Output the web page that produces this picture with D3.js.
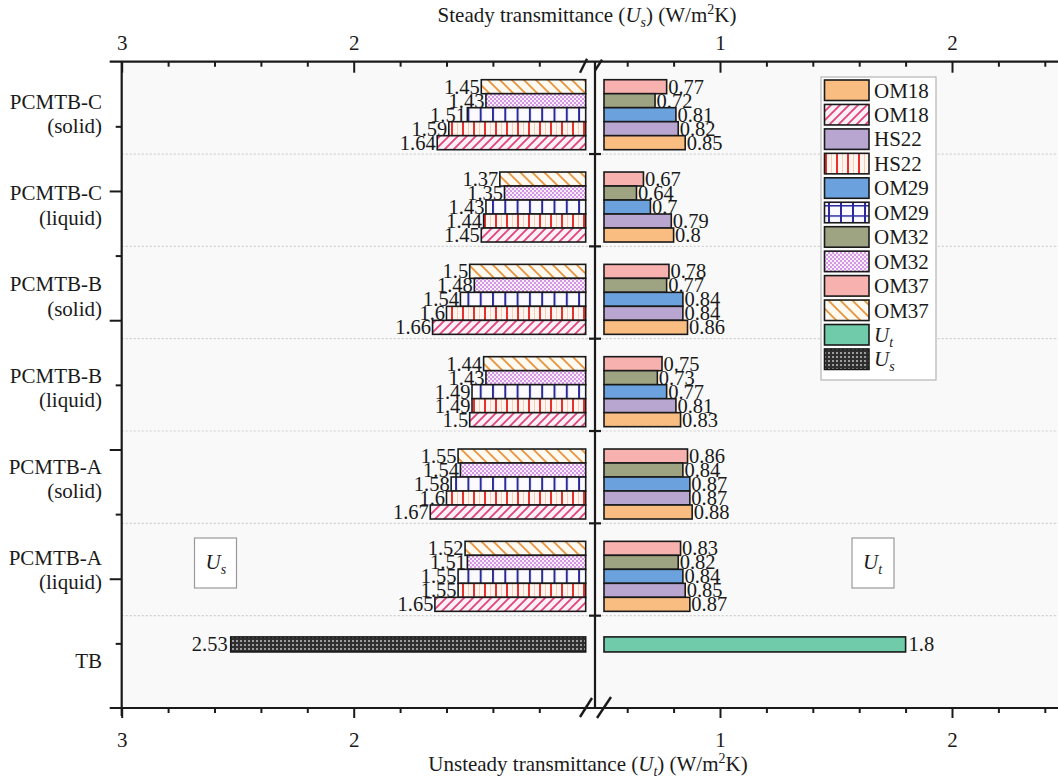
<!DOCTYPE html>
<html>
<head>
<meta charset="utf-8">
<script src="https://cdn.jsdelivr.net/npm/d3@7"></script>
<style>
  html, body { margin: 0; padding: 0; background: #ffffff; }
  svg { display: block; font-family: "Liberation Serif", "DejaVu Serif", serif; }
  svg text { font-family: "Liberation Serif", "DejaVu Serif", serif; }
</style>
</head>
<body>
<svg id="chart" width="1058" height="779"></svg>
<script>
// ---------------- DATA ----------------
const categories = ["PCMTB-C (solid)", "PCMTB-C (liquid)", "PCMTB-B (solid)", "PCMTB-B (liquid)", "PCMTB-A (solid)", "PCMTB-A (liquid)", "TB"];
const pcmCategories = categories.slice(0, 6);
// series as drawn from top to bottom inside each group
const series = ["OM37", "OM32", "OM29", "HS22", "OM18"];
const legendOrder = ["OM18", "HS22", "OM29", "OM32", "OM37"];

// Steady transmittance Us (left, patterned bars)
const usOM37 = [1.45, 1.37, 1.5, 1.44, 1.55, 1.52];
const usOM32 = [1.43, 1.35, 1.48, 1.43, 1.54, 1.51];
const usOM29 = [1.51, 1.43, 1.54, 1.49, 1.58, 1.55];
const usHS22 = [1.59, 1.44, 1.6, 1.49, 1.6, 1.55];
const usOM18 = [1.64, 1.45, 1.66, 1.5, 1.67, 1.65];
// Unsteady transmittance Ut (right, solid bars)
const utOM37 = [0.77, 0.67, 0.78, 0.75, 0.86, 0.83];
const utOM32 = [0.72, 0.64, 0.77, 0.73, 0.84, 0.82];
const utOM29 = [0.81, 0.7, 0.84, 0.77, 0.87, 0.84];
const utHS22 = [0.82, 0.79, 0.84, 0.81, 0.87, 0.85];
const utOM18 = [0.85, 0.8, 0.86, 0.83, 0.88, 0.87];
// TB reference
const tbUs = [2.53];
const tbUt = [1.8];

const leftTicksMinor = [2.8, 2.6, 2.4, 2.2, 1.8, 1.6, 1.4, 1.2];
const leftTicksMajor = [3, 2];
const rightTicksMinor = [0.6, 0.8, 1.2, 1.4, 1.6, 1.8, 2.2, 2.4];
const rightTicksMajor = [1, 2];

const usData = { OM37: usOM37, OM32: usOM32, OM29: usOM29, HS22: usHS22, OM18: usOM18 };
const utData = { OM37: utOM37, OM32: utOM32, OM29: utOM29, HS22: utHS22, OM18: utOM18 };

// ---------------- STYLE ----------------
const solidColor = { OM18: "#F9BD82", HS22: "#B8A5D0", OM29: "#6BA1DC", OM32: "#9EA382", OM37: "#F7B1AE" };
const utColor = "#6FCBA9";
const FONT = 21;
const VFONT = 20.5;
const INK = "#1a1a1a";
const SERIF = "'Liberation Serif', 'DejaVu Serif', serif";

const svg = d3.select("#chart");
const W = 1058;
const plotTop = 61.7, plotBottom = 708, leftAxisX = 121.7, breakX = 595;

// scales
const xL = d3.scaleLinear().domain([3, 1]).range([leftAxisX, 585.7]);
const xR = d3.scaleLinear().domain([1, 2]).range([720, 952]);
const baseL = 1, baseR = 0.5;
const y = d3.scaleBand().domain(categories).range([plotTop, plotBottom]).padding(0);
const bw = y.bandwidth();
const ySeries = d3.scaleBand().domain(series).range([bw * 0.195, bw * 0.953]).padding(0);
const yLeftAxis = d3.scaleLinear().domain([0, 10]).range([plotTop, plotBottom]);
const yLabel = d3.scalePoint().domain(categories).range([yLeftAxis(0.81), yLeftAxis(9.28)]);

// ---------------- PATTERNS ----------------
const defs = svg.append("defs");
function pat(id, w, h, build) {
  const p = defs.append("pattern").attr("id", id).attr("patternUnits", "userSpaceOnUse")
    .attr("width", w).attr("height", h);
  build(p);
}
pat("p-OM18", 9, 9, p => {
  p.append("rect").attr("width", 9).attr("height", 9).attr("fill", "#fdf1f6");
  p.append("path").attr("d", "M0,9 L9,0 M-2,2 L2,-2 M7,11 L11,7").attr("stroke", "#e2437b").attr("stroke-width", 1.8);
});
pat("p-OM37", 12, 12, p => {
  p.append("rect").attr("width", 12).attr("height", 12).attr("fill", "#fffaf1");
  p.append("path").attr("d", "M0,0 L12,12 M-3,9 L3,15 M9,-3 L15,3").attr("stroke", "#e8943e").attr("stroke-width", 1.8);
});
pat("p-HS22", 11, 11, p => {
  p.append("rect").attr("width", 11).attr("height", 11).attr("fill", "#fff6f1");
  p.append("line").attr("x1", 1).attr("x2", 1).attr("y1", 0).attr("y2", 11).attr("stroke", "#e8312c").attr("stroke-width", 2);
  p.append("line").attr("x1", 6.5).attr("x2", 6.5).attr("y1", 0).attr("y2", 11).attr("stroke", "#f7cdb6").attr("stroke-width", 1);
});
pat("p-OM29", 12.3, 12.3, p => {
  p.append("rect").attr("width", 12.3).attr("height", 12.3).attr("fill", "#fbfbff");
  p.append("line").attr("x1", 1).attr("x2", 1).attr("y1", 0).attr("y2", 12.3).attr("stroke", "#2a2a9c").attr("stroke-width", 2);
});
pat("p-OM29-leg", 12, 10.25, p => {
  p.append("rect").attr("width", 12).attr("height", 10.25).attr("fill", "#fbfbff");
  p.append("line").attr("x1", 1).attr("x2", 1).attr("y1", 0).attr("y2", 10.25).attr("stroke", "#2a2a9c").attr("stroke-width", 2);
  p.append("line").attr("x1", 0).attr("x2", 12).attr("y1", 0.5).attr("y2", 0.5).attr("stroke", "#2a2a9c").attr("stroke-width", 2);
});
pat("p-OM32", 4, 4, p => {
  p.append("rect").attr("width", 4).attr("height", 4).attr("fill", "#f9eefb");
  p.append("rect").attr("width", 2).attr("height", 2).attr("fill", "#d596e3");
  p.append("rect").attr("x", 2).attr("y", 2).attr("width", 2).attr("height", 2).attr("fill", "#d596e3");
});
pat("p-US", 4, 4, p => {
  p.append("rect").attr("width", 4).attr("height", 4).attr("fill", "#2f2f2f");
  p.append("rect").attr("width", 2).attr("height", 2).attr("fill", "#9c9c9c");
});

// ---------------- BACKGROUND / GRID ----------------
svg.append("rect").attr("x", leftAxisX).attr("y", plotTop).attr("width", W - leftAxisX).attr("height", plotBottom - plotTop).attr("fill", "#f9f9f9");

const boundaries = categories.slice(1).map(c => y(c));
svg.append("g").selectAll("line").data(boundaries).join("line")
  .attr("x1", leftAxisX).attr("x2", W).attr("y1", d => d).attr("y2", d => d)
  .attr("stroke", "#cfcfcf").attr("stroke-width", 1.2).attr("stroke-dasharray", "2,2");

// ---------------- BARS ----------------
const barsG = svg.append("g");
const flat = [];
pcmCategories.forEach((c, i) => {
  series.forEach(s => flat.push({ c, s, us: usData[s][i], ut: utData[s][i] }));
});
// left (Us)
barsG.selectAll("rect.us").data(flat).join("rect").attr("class", "us")
  .attr("x", d => xL(d.us)).attr("width", d => xL(baseL) - xL(d.us))
  .attr("y", d => y(d.c) + ySeries(d.s)).attr("height", ySeries.bandwidth())
  .attr("fill", d => `url(#p-${d.s})`).attr("stroke", INK).attr("stroke-width", 1.6);
// right (Ut)
barsG.selectAll("rect.ut").data(flat).join("rect").attr("class", "ut")
  .attr("x", xR(baseR)).attr("width", d => xR(d.ut) - xR(baseR))
  .attr("y", d => y(d.c) + ySeries(d.s)).attr("height", ySeries.bandwidth())
  .attr("fill", d => solidColor[d.s]).attr("stroke", INK).attr("stroke-width", 1.6);
// TB
const tbY = y("TB") + bw * 0.23, tbH = bw * 0.163;
barsG.selectAll("rect.tbus").data(tbUs).join("rect").attr("class", "tbus")
  .attr("x", d => xL(d)).attr("width", d => xL(baseL) - xL(d)).attr("y", tbY).attr("height", tbH)
  .attr("fill", "url(#p-US)").attr("stroke", INK).attr("stroke-width", 1.6);
barsG.selectAll("rect.tbut").data(tbUt).join("rect").attr("class", "tbut")
  .attr("x", xR(baseR)).attr("width", d => xR(d) - xR(baseR)).attr("y", tbY).attr("height", tbH)
  .attr("fill", utColor).attr("stroke", INK).attr("stroke-width", 1.6);

// value labels
const lblG = svg.append("g").attr("font-size", VFONT).attr("fill", INK).style("font-family", SERIF);
lblG.selectAll("text.lus").data(flat).join("text").attr("class", "lus")
  .attr("x", d => xL(d.us) - 1.5).attr("y", d => y(d.c) + ySeries(d.s) + ySeries.bandwidth() / 2 + 7)
  .attr("text-anchor", "end").text(d => String(d.us));
lblG.selectAll("text.lut").data(flat).join("text").attr("class", "lut")
  .attr("x", d => xR(d.ut) + 1.5).attr("y", d => y(d.c) + ySeries(d.s) + ySeries.bandwidth() / 2 + 7)
  .attr("text-anchor", "start").text(d => String(d.ut));
lblG.selectAll("text.ltbus").data(tbUs).join("text").attr("class", "ltbus")
  .attr("x", d => xL(d) - 3).attr("y", tbY + tbH / 2 + 7).attr("text-anchor", "end").text(d => String(d));
lblG.selectAll("text.ltbut").data(tbUt).join("text").attr("class", "ltbut")
  .attr("x", d => xR(d) + 3).attr("y", tbY + tbH / 2 + 7).attr("text-anchor", "start").text(d => String(d));

// ---------------- AXES ----------------
function styleAxis(g) {
  g.attr("font-family", null).attr("font-size", null);
  g.select(".domain").remove();
  g.selectAll(".tick line").attr("stroke", INK).attr("stroke-width", 2);
  g.selectAll(".tick text").attr("font-size", FONT).attr("fill", INK).style("font-family", SERIF);
}
// top axis (ticks inward = downward)
const topG = svg.append("g").attr("transform", `translate(0,${plotTop})`);
topG.append("g").call(d3.axisTop(xL).tickValues(leftTicksMinor).tickSize(-5).tickFormat("")).call(styleAxis);
topG.append("g").call(d3.axisTop(xL).tickValues(leftTicksMajor).tickSize(-11).tickPadding(12).tickFormat(d3.format("d"))).call(styleAxis);
topG.append("g").call(d3.axisTop(xR).tickValues(rightTicksMinor).tickSize(-5).tickFormat("")).call(styleAxis);
topG.append("g").call(d3.axisTop(xR).tickValues(rightTicksMajor).tickSize(-11).tickPadding(12).tickFormat(d3.format("d"))).call(styleAxis);
// bottom axis (ticks outward = downward)
const botG = svg.append("g").attr("transform", `translate(0,${plotBottom})`);
botG.append("g").call(d3.axisBottom(xL).tickValues(leftTicksMinor).tickSize(5).tickFormat("")).call(styleAxis);
botG.append("g").call(d3.axisBottom(xL).tickValues(leftTicksMajor).tickSize(10).tickPadding(14).tickFormat(d3.format("d"))).call(styleAxis);
botG.append("g").call(d3.axisBottom(xR).tickValues(rightTicksMinor).tickSize(5).tickFormat("")).call(styleAxis);
botG.append("g").call(d3.axisBottom(xR).tickValues(rightTicksMajor).tickSize(10).tickPadding(14).tickFormat(d3.format("d"))).call(styleAxis);
// left axis (numeric subdivisions, outward ticks)
const leftG = svg.append("g").attr("transform", `translate(${leftAxisX},0)`);
leftG.append("g").call(d3.axisLeft(yLeftAxis).tickValues([1, 3, 5, 7, 9]).tickSize(6).tickFormat("")).call(styleAxis);
leftG.append("g").call(d3.axisLeft(yLeftAxis).tickValues([2, 4, 6, 8]).tickSize(12).tickFormat("")).call(styleAxis);

// axis lines
const axisLines = svg.append("g").attr("stroke", INK).attr("stroke-width", 2.2).attr("fill", "none");
axisLines.append("line").attr("x1", leftAxisX - 12).attr("x2", W).attr("y1", plotTop).attr("y2", plotTop);
axisLines.append("line").attr("x1", leftAxisX - 12).attr("x2", W).attr("y1", plotBottom).attr("y2", plotBottom);
axisLines.append("line").attr("x1", leftAxisX).attr("x2", leftAxisX).attr("y1", plotTop).attr("y2", plotBottom + 8);
axisLines.append("line").attr("x1", breakX).attr("x2", breakX).attr("y1", plotTop).attr("y2", plotBottom);
// centre ticks at band boundaries
axisLines.selectAll("line.ct").data(boundaries).join("line").attr("class", "ct")
  .attr("x1", breakX - 6).attr("x2", breakX + 6).attr("y1", d => d).attr("y2", d => d);
// break marks
const brk = svg.append("g").attr("stroke", INK).attr("stroke-width", 2.4);
brk.append("line").attr("x1", breakX - 15).attr("y1", plotTop + 11).attr("x2", breakX - 8).attr("y2", plotTop - 3);
brk.append("line").attr("x1", breakX).attr("y1", plotTop + 9).attr("x2", breakX + 7).attr("y2", plotTop - 2);
brk.append("line").attr("x1", breakX - 15).attr("y1", plotBottom + 9).attr("x2", breakX - 3).attr("y2", plotBottom - 10);
brk.append("line").attr("x1", breakX + 2).attr("y1", plotBottom + 10).attr("x2", breakX + 16).attr("y2", plotBottom - 11);

// category labels
const catG = svg.append("g").attr("font-size", FONT).attr("fill", INK).attr("text-anchor", "end").style("font-family", SERIF);
categories.forEach(c => {
  const parts = c.split(" (");
  const cy = yLabel(c);
  const t = catG.append("text").attr("x", 102);
  if (parts.length > 1) {
    t.attr("y", cy - 5.25);
    t.append("tspan").attr("x", 102).text(parts[0]);
    t.append("tspan").attr("x", 102).attr("dy", 24.5).text("(" + parts[1]);
  } else {
    t.attr("y", cy + 7).text(c);
  }
});

// axis titles
function unitTitle(sel, prefix, sub) {
  sel.append("tspan").text(prefix + " (");
  sel.append("tspan").attr("font-style", "italic").text("U");
  sel.append("tspan").attr("font-style", "italic").attr("font-size", 14).attr("dy", 5).text(sub);
  sel.append("tspan").attr("dy", -5).text(") (W/m");
  sel.append("tspan").attr("font-size", 14).attr("dy", -8).text("2");
  sel.append("tspan").attr("dy", 8).text("K)");
}
svg.append("text").attr("x", 587).attr("y", 22).attr("text-anchor", "middle").attr("font-size", FONT).attr("fill", INK)
  .style("font-family", SERIF).call(s => unitTitle(s, "Steady transmittance", "s"));
svg.append("text").attr("x", 588).attr("y", 771).attr("text-anchor", "middle").attr("font-size", FONT).attr("fill", INK)
  .style("font-family", SERIF).call(s => unitTitle(s, "Unsteady transmittance", "t"));

// annotation boxes
function uBox(x, sub) {
  const g = svg.append("g");
  g.append("rect").attr("x", x).attr("y", 538).attr("width", 42).attr("height", 50)
    .attr("fill", "#ffffff").attr("stroke", "#9a9a9a").attr("stroke-width", 1.2);
  const t = g.append("text").attr("x", x + 11).attr("y", 569).attr("font-size", FONT).attr("fill", INK).style("font-family", SERIF);
  t.append("tspan").attr("font-style", "italic").text("U");
  t.append("tspan").attr("font-style", "italic").attr("font-size", 14).attr("dy", 5).text(sub);
}
uBox(194.5, "s");
uBox(852, "t");

// legend
const legendItems = [];
legendOrder.forEach(s => {
  legendItems.push({ label: s, fill: solidColor[s] });
  legendItems.push({ label: s, fill: s === "OM29" ? "url(#p-OM29-leg)" : `url(#p-${s})` });
});
legendItems.push({ label: "U", sub: "t", fill: utColor });
legendItems.push({ label: "U", sub: "s", fill: "url(#p-US)" });

const leg = svg.append("g");
leg.append("rect").attr("x", 821).attr("y", 77).attr("width", 115).attr("height", 303)
  .attr("fill", "#ffffff").attr("stroke", "#b5b5b5").attr("stroke-width", 1.2);
const step = 24.45;
legendItems.forEach((d, i) => {
  const yy = 80 + i * step;
  leg.append("rect").attr("x", 824.5).attr("y", yy).attr("width", 44.5).attr("height", 20.5)
    .attr("fill", d.fill).attr("stroke", INK).attr("stroke-width", 1.6);
  const t = leg.append("text").attr("x", 874).attr("y", yy + 17.5).attr("font-size", FONT).attr("fill", INK).style("font-family", SERIF);
  if (d.sub) {
    t.append("tspan").attr("font-style", "italic").text(d.label);
    t.append("tspan").attr("font-style", "italic").attr("font-size", 14).attr("dy", 5).text(d.sub);
  } else {
    t.text(d.label);
  }
});
</script>
</body>
</html>
